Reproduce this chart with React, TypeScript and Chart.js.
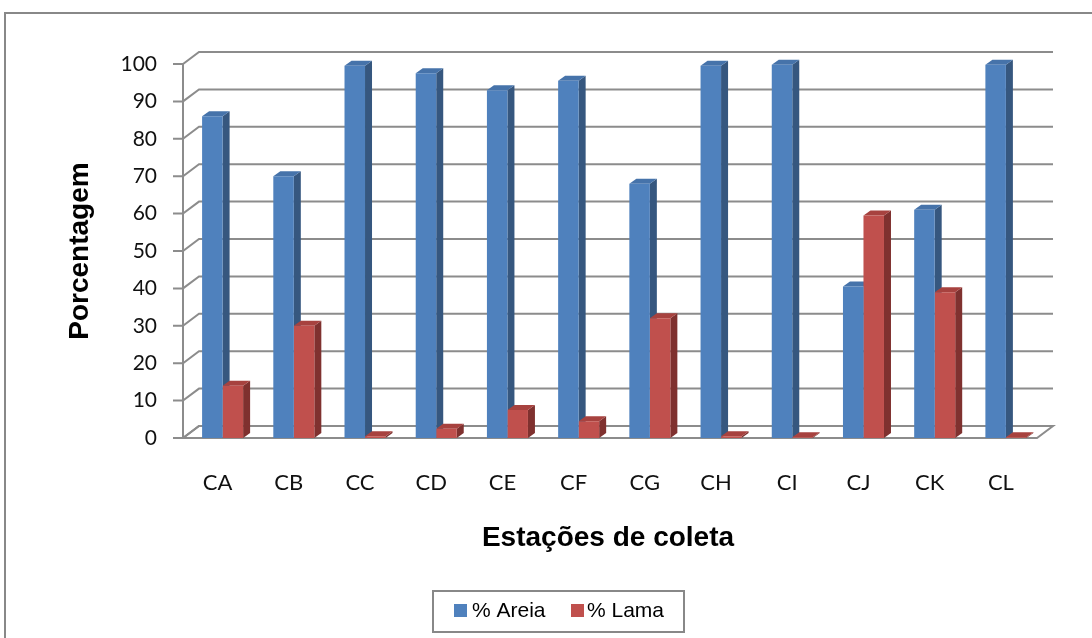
import React, { useEffect, useRef } from 'react';
import { Chart, registerables } from 'chart.js';

Chart.register(...registerables);

const categories = ['CA', 'CB', 'CC', 'CD', 'CE', 'CF', 'CG', 'CH', 'CI', 'CJ', 'CK', 'CL'];
const areia = [86, 70, 99.5, 97.5, 93, 95.5, 68, 99.5, 99.8, 40.5, 61, 99.8];
const lama = [14, 30, 0.5, 2.5, 7.5, 4.5, 32, 0.5, 0.2, 59.5, 39, 0.2];
const seriesNames = ['% Areia', '% Lama'];
const yTickValues = [0, 10, 20, 30, 40, 50, 60, 70, 80, 90, 100];
const xTitle = 'Estações de coleta';
const yTitle = 'Porcentagem';

const FRONT = ['#4F81BD', '#C0504D'];
const SIDE = ['#36577F', '#7F312F'];
const TOP = ['#4673AA', '#A7423F'];
const GRID = '#8c8c8c';

const WALL_DX = 16;
const WALL_DY = -12;
const BAR_DX = 7;
const BAR_DY = -5;

const threeD = {
  id: 'threeD',
  beforeDatasetsDraw(chart: any) {
    const { ctx, chartArea } = chart;
    const y = chart.scales.y;
    const fx = chartArea.left - 4;
    const fr = chartArea.right - 4.5;
    const y0 = y.getPixelForValue(0);
    ctx.save();
    ctx.strokeStyle = GRID;
    ctx.lineWidth = 2;
    // floor
    ctx.beginPath();
    ctx.moveTo(fx, y0);
    ctx.lineTo(fr, y0);
    ctx.lineTo(fr + WALL_DX, y0 + WALL_DY);
    ctx.lineTo(fx + WALL_DX, y0 + WALL_DY);
    ctx.closePath();
    ctx.stroke();
    for (const v of yTickValues) {
      const py = y.getPixelForValue(v);
      ctx.beginPath();
      ctx.moveTo(fx - 10, py);
      ctx.lineTo(fx, py);
      ctx.lineTo(fx + WALL_DX, py + WALL_DY);
      ctx.lineTo(fr + WALL_DX, py + WALL_DY);
      ctx.stroke();
    }
    ctx.beginPath();
    ctx.moveTo(fx, y.getPixelForValue(100));
    ctx.lineTo(fx, y0);
    ctx.stroke();
    ctx.restore();

    // bar sides & tops
    const metas = [chart.getDatasetMeta(0), chart.getDatasetMeta(1)];
    ctx.save();
    for (let i = 0; i < categories.length; i++) {
      metas.forEach((meta: any, d: number) => {
        const el = meta.data[i];
        const { x, y: ty, base, width } = el.getProps(['x', 'y', 'base', 'width'], true);
        const l = x - width / 2;
        const r = x + width / 2;
        ctx.fillStyle = SIDE[d];
        ctx.beginPath();
        ctx.moveTo(r, ty);
        ctx.lineTo(r + BAR_DX, ty + BAR_DY);
        ctx.lineTo(r + BAR_DX, base + BAR_DY);
        ctx.lineTo(r, base);
        ctx.closePath();
        ctx.fill();
        ctx.fillStyle = TOP[d];
        ctx.beginPath();
        ctx.moveTo(l, ty);
        ctx.lineTo(r, ty);
        ctx.lineTo(r + BAR_DX, ty + BAR_DY);
        ctx.lineTo(l + BAR_DX, ty + BAR_DY);
        ctx.closePath();
        ctx.fill();
      });
    }
    ctx.restore();
  },
  afterDraw(chart: any) {
    const { ctx } = chart;
    ctx.save();
    // frame
    ctx.strokeStyle = '#888888';
    ctx.lineWidth = 2;
    ctx.strokeRect(5, 13, 1300, 1000);
    // titles
    ctx.fillStyle = '#000';
    ctx.font = 'bold 28px "Liberation Sans", Arial, sans-serif';
    ctx.textAlign = 'center';
    ctx.textBaseline = 'middle';
    ctx.fillText(xTitle, 608, 538);
    ctx.save();
    ctx.translate(80, 251);
    ctx.rotate(-Math.PI / 2);
    ctx.fillText(yTitle, 0, 0);
    ctx.restore();
    // legend
    ctx.strokeStyle = '#888888';
    ctx.lineWidth = 2;
    ctx.strokeRect(433, 591, 251, 41);
    ctx.font = '21px "Liberation Sans", Arial, sans-serif';
    ctx.textAlign = 'left';
    const lx = [454, 571];
    const tx = [472, 587];
    seriesNames.forEach((n, d) => {
      ctx.fillStyle = FRONT[d];
      ctx.fillRect(lx[d], 604, 13, 13);
      ctx.fillStyle = '#000';
      ctx.fillText(n, tx[d], 611);
    });
    ctx.restore();
  },
};

export default function App() {
  const ref = useRef<HTMLCanvasElement>(null);
  useEffect(() => {
    if (!ref.current) return;
    const chart = new Chart(ref.current, {
      type: 'bar',
      data: {
        labels: categories,
        datasets: [
          { label: seriesNames[0], data: areia, backgroundColor: FRONT[0], barPercentage: 1, categoryPercentage: 0.576 },
          { label: seriesNames[1], data: lama, backgroundColor: FRONT[1], barPercentage: 1, categoryPercentage: 0.576 },
        ],
      },
      options: {
        animation: false,
        responsive: false,
        maintainAspectRatio: false,
        layout: { padding: { left: 0, top: 64, right: 50.5, bottom: 0 } },
        plugins: { legend: { display: false }, tooltip: { enabled: false }, title: { display: false } },
        scales: {
          x: {
            grid: { display: false, drawTicks: false },
            border: { display: false },
            ticks: { font: { family: 'Lato', size: 22 }, color: '#111', padding: 32, labelOffset: -5, maxRotation: 0, autoSkip: false },
            afterFit: (s: any) => { s.height = 200; },
          },
          y: {
            min: 0,
            max: 100,
            ticks: { stepSize: 10, font: { family: 'Lato', size: 21 }, color: '#111', padding: 30 },
            grid: { display: false, drawTicks: false },
            border: { display: false },
            afterFit: (s: any) => { s.width = 187; },
          },
        },
      },
      plugins: [threeD],
    });
    return () => chart.destroy();
  }, []);
  return (
    <div style={{ position: 'fixed', left: 0, top: 0, width: 1092, height: 638, background: '#fff' }}>
      <canvas ref={ref} width={1092} height={638} style={{ width: 1092, height: 638, display: 'block' }} />
    </div>
  );
}
